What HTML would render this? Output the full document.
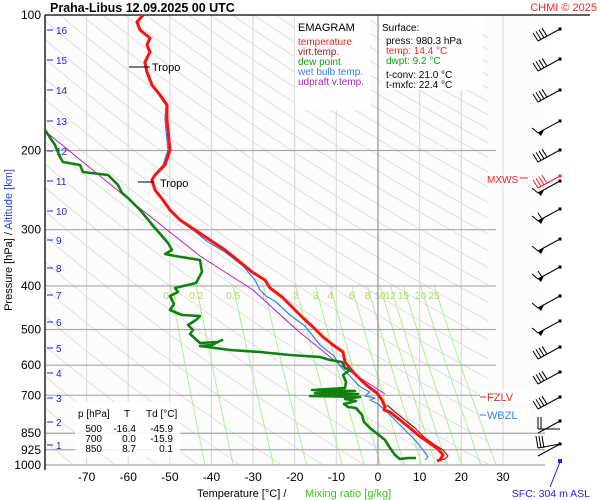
<!DOCTYPE html>
<html><head><meta charset="utf-8"><style>
html,body{margin:0;padding:0;background:#fff}
svg{display:block;font-family:"Liberation Sans",sans-serif}
</style></head><body>
<svg id="s" width="600" height="500" viewBox="0 0 600 500" xmlns="http://www.w3.org/2000/svg">
<defs><clipPath id="cp"><rect x="45" y="15" width="443" height="450"/></clipPath>
<clipPath id="cp2"><rect x="45" y="15" width="500" height="450"/></clipPath></defs>
<rect x="0" y="0" width="600" height="500" fill="#fff"/>
<rect x="45" y="15" width="500" height="450" fill="#fcfcfc"/>
<g id="adiab" clip-path="url(#cp)" stroke="#e0e0e0" stroke-width="1" fill="none"></g>
<g id="vgrid" stroke="#dcdcdc" stroke-width="1.2"></g>
<g id="mixr" clip-path="url(#cp2)" stroke="#b0f090" stroke-width="1" fill="none"></g>
<g id="mixlab" font-size="10" fill="#a6e060" text-anchor="middle"></g>
<g id="hgrid" stroke="#a8a8a8" stroke-width="1.2"></g>
<line x1="378" y1="15" x2="378" y2="465" stroke="#999" stroke-width="1.3"/>
<rect x="295" y="16" width="75" height="94" fill="#fff" opacity="0.9"/>
<rect x="380" y="16" width="103" height="74" fill="#fff" opacity="0.9"/>
<rect x="75" y="402" width="105" height="55" fill="#fff" opacity="0.85"/>
<g font-size="11">
<text x="298" y="31" fill="#000">EMAGRAM</text>
<g font-size="10">
<text x="298" y="45" fill="#ff2020">temperature</text>
<text x="298" y="55" fill="#a01818">virt.temp.</text>
<text x="298" y="65" fill="#10a010">dew point</text>
<text x="298" y="75" fill="#3080f0">wet bulb temp.</text>
<text x="298" y="85" fill="#b020c0">udpraft v.temp.</text>
<text x="382" y="31" fill="#000">Surface:</text>
<text x="386" y="44" fill="#000">press: 980.3 hPa</text>
<text x="386" y="54" fill="#ff2020">temp: 14.4 °C</text>
<text x="386" y="64" fill="#10a010">dwpt: 9.2 °C</text>
<text x="386" y="78" fill="#000">t-conv: 21.0 °C</text>
<text x="386" y="88" fill="#000">t-mxfc: 22.4 °C</text>
<text x="78" y="417" fill="#000">p [hPa]</text>
<text x="124" y="417" fill="#000">T</text>
<text x="146" y="417" fill="#000">Td [°C]</text>
</g></g>
<g font-size="10" fill="#000" text-anchor="end">
<text x="102" y="432">500</text><text x="136" y="432">-16.4</text><text x="173" y="432">-45.9</text>
<text x="102" y="442">700</text><text x="136" y="442">0.0</text><text x="173" y="442">-15.9</text>
<text x="102" y="452">850</text><text x="136" y="452">8.7</text><text x="173" y="452">0.1</text>
</g>
<line x1="45" y1="15" x2="590" y2="15" stroke="#000" stroke-width="1.3"/>
<line x1="45" y1="15" x2="45" y2="470" stroke="#000" stroke-width="1.3"/>
<g id="plab" font-size="12" fill="#000" text-anchor="end"></g>
<g id="km" font-size="10" fill="#2020ee"></g>
<g id="tlab" font-size="12" fill="#000" text-anchor="middle"></g>
<text x="197" y="497" font-size="11" fill="#000">Temperature [°C]  /</text>
<text x="305" y="497" font-size="11" fill="#40c020">Mixing ratio [g/kg]</text>
<text transform="translate(12,240) rotate(-90)" font-size="11" text-anchor="middle"><tspan fill="#000">Pressure [hPa]  /  </tspan><tspan fill="#2040e0">Altitude [km]</tspan></text>
<text x="50" y="12" font-size="12.5" font-weight="bold" fill="#000">Praha-Libus     12.09.2025 00 UTC</text>
<text x="597" y="11" font-size="11" fill="#ff2020" text-anchor="end">CHMI © 2025</text>
<g clip-path="url(#cp2)" fill="none" stroke-linejoin="round">
<polyline stroke="#b020c0" stroke-width="1" points="45,131 127,198 200,256 253,290 297,330 340,365 385,394"/>
<polyline stroke="#3080f0" stroke-width="1.2" points="143,15 137,22 141,30 149,38 147,45 149,52 144,62 146,72 151,85 159,95 166,105 165,120 166,130 168,150 163,165 154,175 151,180 155,190 162,200 169,210 179,220 193,230 208,242 225,252 243,266 255,280 260,290 266,296 276,302 290,315 305,326 320,345 334,356 340,366 350,376 358,385 362,388 370,392 365,396 375,398 370,400 378,404 385,410 395,420 405,430 415,440 423,450 428,457 425,460"/>
<polyline stroke="#a01818" stroke-width="1.2" points="387,405 395,412 405,420 415,428 425,438 435,445 443,450 448,456 445,459 440,460"/>
<polyline stroke="#ff1010" stroke-width="3" points="143,15 137,22 140,30 150,38 147,45 150,52 145,62 147,72 152,85 160,95 167,105 167,120 168,130 170,150 165,165 155,175 152,180 155,190 163,200 170,210 180,220 195,230 210,240 225,250 240,262 252,272 265,280 270,288 282,297 293,308 303,318 313,327 323,337 333,345 343,352 345,362 353,372 363,382 370,388 377,393 382,400 385,407 384,410 390,412 400,420 410,428 418,435 428,442 438,449 443,455 440,460 437,461"/>
<polyline stroke="#108010" stroke-width="2.6" points="45,130 55,145 60,157 63,162 80,165 83,172 108,175 118,185 122,193 128,198 140,210 150,222 155,228 168,243 172,250 165,254 175,256 200,260 202,272 196,283 175,288 178,292 170,296 174,304 170,310 182,315 200,316 196,320 188,325 193,330 190,334 200,343 218,342 222,340 212,345 200,346 230,350 260,352 290,355 320,357 330,360 342,362 345,368 350,370 343,375 346,382 345,388 312,390 355,391 315,393 358,394 310,396 360,397 345,399 356,401 344,404 348,407 356,408 362,415 364,422 370,428 375,432 380,436 385,440 390,448 395,455 400,459 408,458 416,458"/>
</g>
<line x1="129" y1="67" x2="150" y2="67" stroke="#000"/><text x="152" y="71" font-size="11">Tropo</text>
<line x1="138" y1="182" x2="154" y2="182" stroke="#000"/><text x="160" y="187" font-size="11">Tropo</text>
<rect x="480" y="390" width="50" height="12" fill="#fff"/>
<rect x="480" y="408" width="50" height="12" fill="#fff"/>
<line x1="480" y1="397" x2="486" y2="397" stroke="#ff2020"/><text x="487" y="401" font-size="11" fill="#ff2020">FZLV</text>
<line x1="480" y1="415" x2="486" y2="415" stroke="#3080f0"/><text x="487" y="419" font-size="11" fill="#3080f0">WBZL</text>
<text x="487" y="183" font-size="10" fill="#ff2020">MXWS</text>
<line x1="520" y1="178" x2="528" y2="178" stroke="#ff2020"/>
<g id="barbs" stroke="#000" stroke-width="1" fill="#000"></g>
<line x1="560" y1="462" x2="550" y2="487" stroke="#2020ee"/>
<rect x="558" y="459" width="4" height="4" fill="#2020ee"/>
<text x="590" y="497" font-size="10.5" fill="#2020ee" text-anchor="end">SFC: 304 m ASL</text>
</svg>
<script>
var NS="http://www.w3.org/2000/svg";
function Y(p){return 15+450*Math.log10(p/100);}
function X(t){return 378+t*4.163;}
function el(g,tag,a,txt){var e=document.createElementNS(NS,tag);for(var k in a)e.setAttribute(k,a[k]);if(txt!==undefined)e.textContent=txt;document.getElementById(g).appendChild(e);return e;}
for(var th=180;th<=560;th+=10){var pts=[];for(var p=100;p<=1000;p+=10){pts.push(X(th*Math.pow(p/1000,0.286)-273.15).toFixed(1)+","+Y(p).toFixed(1));}el("adiab","polyline",{points:pts.join(" ")});}
for(var t=-70;t<=30;t+=10){if(t==0)continue;el("vgrid","line",{x1:X(t),y1:15,x2:X(t),y2:465});}
var ws=[0.1,0.2,0.5,1,2,3,4,6,8,10,12,15,20,25];
function td(w,p){var e=w*p/(622+w);var l=Math.log(e/6.112);return 243.5*l/(17.67-l);}
ws.forEach(function(w){var pts=[];for(var p=400;p<=1000;p+=20)pts.push(X(td(w,p)).toFixed(1)+","+Y(p).toFixed(1));el("mixr","polyline",{points:pts.join(" ")});el("mixlab","text",{x:X(td(w,400)).toFixed(1),y:299},String(w));});
[[200,496],[300,496],[400,496],[500,496],[600,496],[700,496],[850,545],[925,545],[1000,545]].forEach(function(a){el("hgrid","line",{x1:45,y1:Y(a[0]),x2:a[1],y2:Y(a[0])});});
[100,200,300,400,500,600,700,850,925,1000].forEach(function(p){el("plab","text",{x:41,y:Y(p)+4},String(p));});
var kmy=[445,422,398,373,348,322,295,268,240,211,181,151,121,90,60,30];
kmy.forEach(function(y,i){el("km","line",{x1:47,y1:y,x2:53,y2:y,stroke:"#2020ee"});el("km","text",{x:56,y:y+4},String(i+1));});
for(var t=-70;t<=30;t+=10)el("tlab","text",{x:X(t),y:481},String(t));
var by=[29,59,90,121,150,181,209,239,267,296,321,347,372,397,421,444];
var types=[3,3,3,1,3,1,2,1,2,1,1,3,3,3,4,5];
function barb(y,tp,col){var g="barbs";var x0=560,x1=538,y1=y+12;el(g,"line",{x1:x0,y1:y,x2:x1,y2:y1,stroke:col});el(g,"rect",{x:x0-1.5,y:y-1.5,width:3,height:3,fill:col,stroke:"none"});
 if(tp==1){el(g,"polygon",{points:x1+","+y1+" "+(x1+6)+","+(y1-3)+" "+(x1+3)+","+(y1+3),fill:col,stroke:"none"});el(g,"line",{x1:x1,y1:y1,x2:x1-6,y2:y1-5,stroke:col});}
 else if(tp==2){el(g,"polygon",{points:x1+","+y1+" "+(x1+6)+","+(y1-3)+" "+(x1+3)+","+(y1+3),fill:col,stroke:"none"});el(g,"line",{x1:x1,y1:y1,x2:x1-6,y2:y1-5,stroke:col});el(g,"line",{x1:x1+4,y1:y1-2,x2:x1,y2:y1-8,stroke:col});}
 else if(tp==3){for(var i=0;i<4;i++){var bx=x1+i*3,byy=y1-i*1.6;el(g,"line",{x1:bx,y1:byy,x2:bx-5,y2:byy-8,stroke:col});}}
 else if(tp==4){el(g,"line",{x1:538,y1:y+8,x2:560,y2:y+8,stroke:col});el(g,"line",{x1:538,y1:y+8,x2:538,y2:y-4,stroke:col});el(g,"line",{x1:541,y1:y+8,x2:541,y2:y-4,stroke:col});}
 else if(tp==5){el(g,"line",{x1:538,y1:y+4,x2:560,y2:y,stroke:col});for(var i=0;i<3;i++)el(g,"line",{x1:538+i*3,y1:y+4,x2:536+i*3,y2:y-8,stroke:col});}
}
by.forEach(function(y,i){barb(y,types[i],"#000");});
barb(176,3,"#ff2020");
</script>
</body></html>
